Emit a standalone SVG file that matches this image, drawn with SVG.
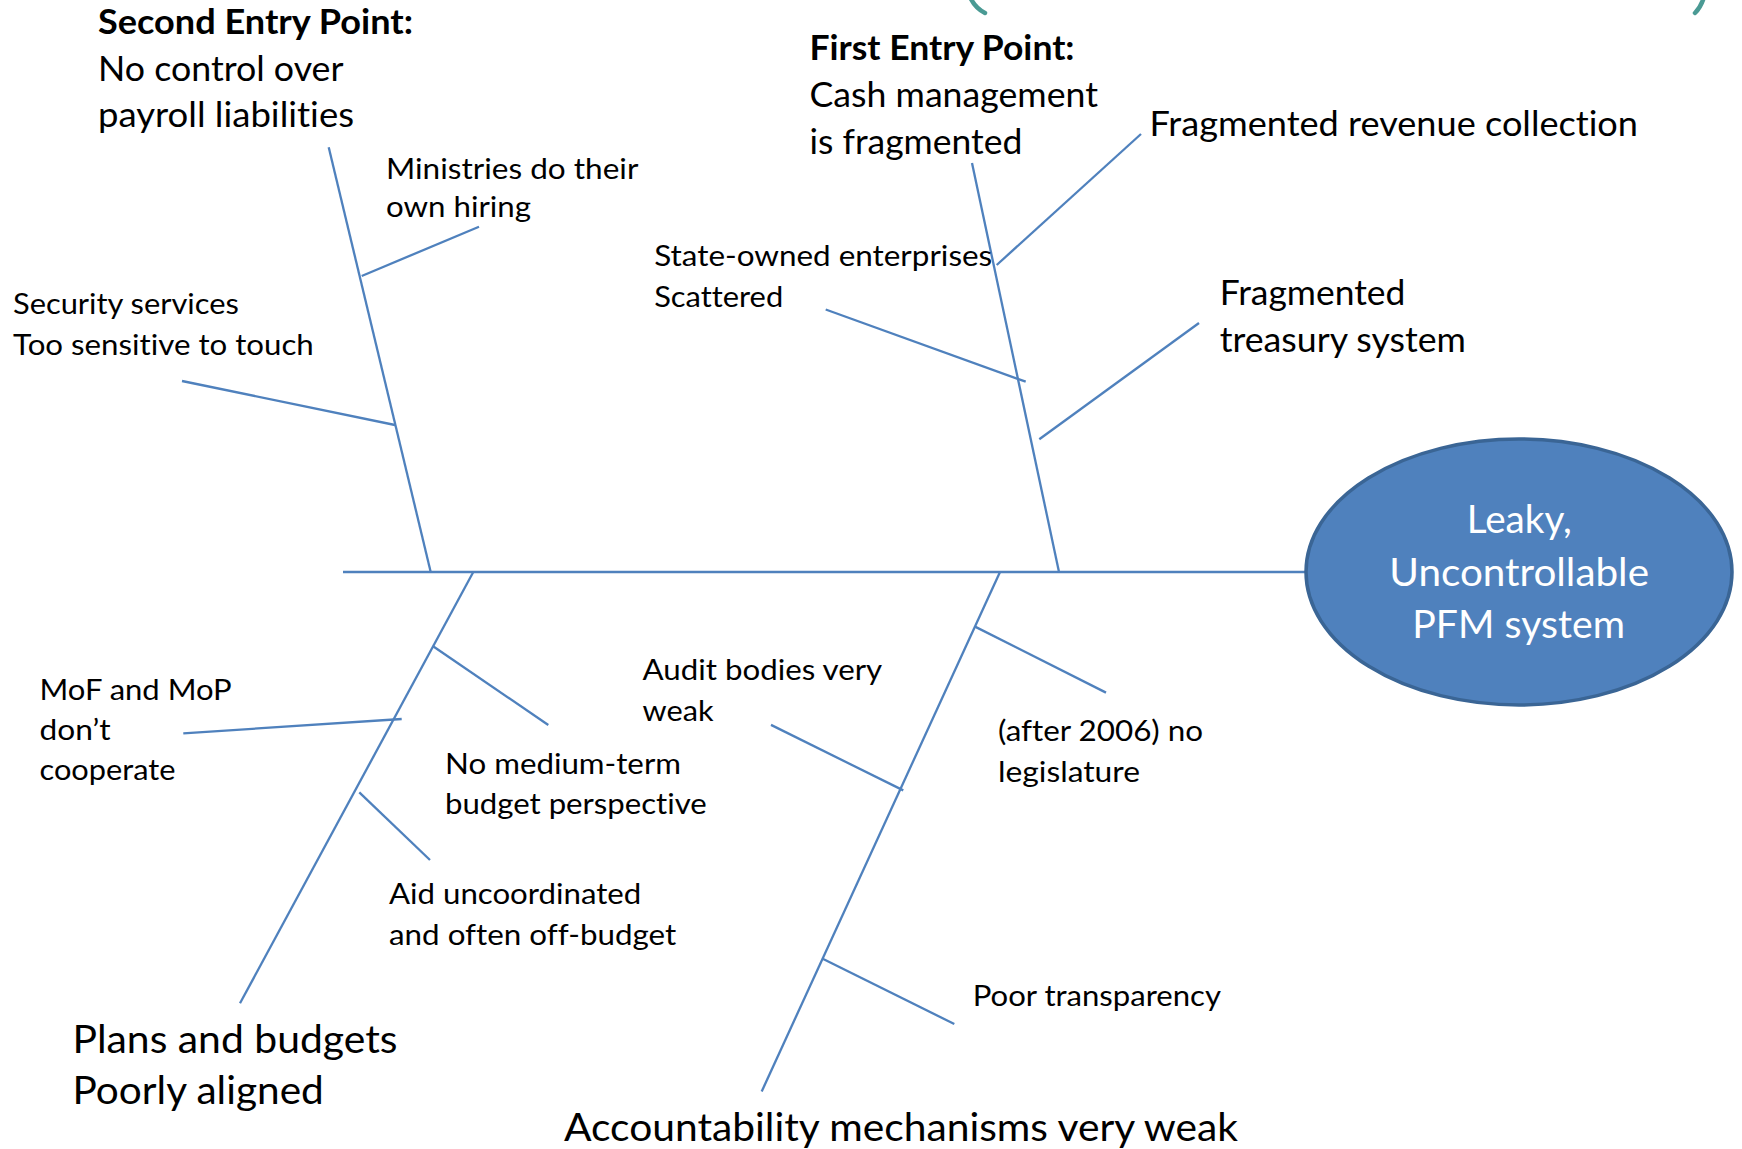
<svg xmlns="http://www.w3.org/2000/svg" width="1742" height="1149" viewBox="0 0 1742 1149">
  <style>
    .bone { stroke: #4F81BD; stroke-width: 2.3; fill: none; stroke-linecap: butt; }
    .t { font-family: Lato, "Open Sans", "Liberation Sans", sans-serif; fill: #000; font-variant-ligatures: none; }
    .s { font-size: 28px; }
    .m { font-size: 34px; }
    .l { font-size: 38px; }
    .b { font-weight: bold; }
    .w { fill: #FFFFFF; }
    .frame { stroke: #4A9A94; stroke-width: 4.5; fill: none; stroke-linecap: round; }
  </style>
  <rect width="1742" height="1149" fill="#FFFFFF"/>

  <!-- edges of a frame above the top border -->
  <path class="frame" d="M970,-3 Q975,8 985,13"/>
  <path class="frame" d="M1704,-3 Q1701,7 1695,13"/>

  <!-- fishbone lines -->
  <g id="connectors">
    <line class="bone" x1="343" y1="572" x2="1306" y2="572"/>
    <!-- upper-left bone and its ribs -->
    <line class="bone" x1="328.7" y1="147.3" x2="430.7" y2="572"/>
    <line class="bone" x1="361.7" y1="276" x2="479" y2="226.7"/>
    <line class="bone" x1="182" y1="381" x2="395" y2="425"/>
    <!-- upper-right bone and its ribs -->
    <line class="bone" x1="972" y1="163" x2="1059" y2="572"/>
    <line class="bone" x1="996.7" y1="265" x2="1141" y2="134"/>
    <line class="bone" x1="825.7" y1="309.5" x2="1025.7" y2="381.7"/>
    <line class="bone" x1="1039.3" y1="439.3" x2="1199" y2="323"/>
    <!-- lower-left bone and its ribs -->
    <line class="bone" x1="473.3" y1="572" x2="240" y2="1003.3"/>
    <line class="bone" x1="432.7" y1="646" x2="548.3" y2="725"/>
    <line class="bone" x1="183.3" y1="733.3" x2="401.7" y2="719"/>
    <line class="bone" x1="359.3" y1="792.3" x2="430" y2="860"/>
    <!-- lower-right bone and its ribs -->
    <line class="bone" x1="1000" y1="572" x2="761.7" y2="1091.4"/>
    <line class="bone" x1="975" y1="626.6" x2="1106" y2="692.6"/>
    <line class="bone" x1="771" y1="724.9" x2="903.3" y2="790.4"/>
    <line class="bone" x1="822.7" y1="958.8" x2="954.3" y2="1024"/>
  </g>

  <!-- effect -->
  <g id="effect">
    <ellipse cx="1519" cy="572" rx="213" ry="133" fill="#4F81BD" stroke="#3A6595" stroke-width="3.5"/>
    <text class="t l w" x="1466.7" y="533" textLength="105" lengthAdjust="spacingAndGlyphs">Leaky,</text>
    <text class="t l w" x="1389.3" y="585.7" textLength="259.7" lengthAdjust="spacingAndGlyphs">Uncontrollable</text>
    <text class="t l w" x="1412.3" y="638.3" textLength="212.7" lengthAdjust="spacingAndGlyphs">PFM system</text>
  </g>

  <!-- upper-left cause: payroll -->
  <g id="payroll">
    <text class="t m b" x="98" y="33.5" textLength="315" lengthAdjust="spacingAndGlyphs">Second Entry Point:</text>
    <text class="t m" x="98" y="80.5" textLength="245.5" lengthAdjust="spacingAndGlyphs">No control over</text>
    <text class="t m" x="98" y="127" textLength="256" lengthAdjust="spacingAndGlyphs">payroll liabilities</text>
  </g>
  <g id="hiring">
    <text class="t s" x="386" y="178.5" textLength="252.4" lengthAdjust="spacingAndGlyphs">Ministries do their</text>
    <text class="t s" x="386" y="217" textLength="145" lengthAdjust="spacingAndGlyphs">own hiring</text>
  </g>
  <g id="security">
    <text class="t s" x="13" y="313.5" textLength="225.8" lengthAdjust="spacingAndGlyphs">Security services</text>
    <text class="t s" x="13" y="355" textLength="300.8" lengthAdjust="spacingAndGlyphs">Too sensitive to touch</text>
  </g>

  <!-- upper-right cause: cash management -->
  <g id="cash">
    <text class="t m b" x="809.5" y="60" textLength="265" lengthAdjust="spacingAndGlyphs">First Entry Point:</text>
    <text class="t m" x="809.5" y="106.7" textLength="288.5" lengthAdjust="spacingAndGlyphs">Cash management</text>
    <text class="t m" x="809.5" y="154" textLength="212.8" lengthAdjust="spacingAndGlyphs">is fragmented</text>
  </g>
  <g id="revenue">
    <text class="t m" x="1149.5" y="136" textLength="488.5" lengthAdjust="spacingAndGlyphs">Fragmented revenue collection</text>
  </g>
  <g id="soe">
    <text class="t s" x="654.2" y="266" textLength="338" lengthAdjust="spacingAndGlyphs">State-owned enterprises</text>
    <text class="t s" x="654.2" y="306.7" textLength="129" lengthAdjust="spacingAndGlyphs">Scattered</text>
  </g>
  <g id="treasury">
    <text class="t m" x="1219.7" y="305" textLength="185.6" lengthAdjust="spacingAndGlyphs">Fragmented</text>
    <text class="t m" x="1219.7" y="351.7" textLength="246.3" lengthAdjust="spacingAndGlyphs">treasury system</text>
  </g>

  <!-- lower-left cause: plans and budgets -->
  <g id="plans">
    <text class="t l" x="72.5" y="1052.5" textLength="325" lengthAdjust="spacingAndGlyphs">Plans and budgets</text>
    <text class="t l" x="72.5" y="1104.4" textLength="251.3" lengthAdjust="spacingAndGlyphs">Poorly aligned</text>
  </g>
  <g id="mof">
    <text class="t s" x="39.5" y="700" textLength="192.2" lengthAdjust="spacingAndGlyphs">MoF and MoP</text>
    <text class="t s" x="39.5" y="739.7" textLength="71" lengthAdjust="spacingAndGlyphs">don’t</text>
    <text class="t s" x="39.5" y="780" textLength="136" lengthAdjust="spacingAndGlyphs">cooperate</text>
  </g>
  <g id="mtef">
    <text class="t s" x="445" y="774.3" textLength="236" lengthAdjust="spacingAndGlyphs">No medium-term</text>
    <text class="t s" x="445" y="813.8" textLength="261.7" lengthAdjust="spacingAndGlyphs">budget perspective</text>
  </g>
  <g id="aid">
    <text class="t s" x="389" y="904" textLength="252.3" lengthAdjust="spacingAndGlyphs">Aid uncoordinated</text>
    <text class="t s" x="389" y="945.3" textLength="287.2" lengthAdjust="spacingAndGlyphs">and often off-budget</text>
  </g>

  <!-- lower-right cause: accountability -->
  <g id="accountability">
    <text class="t l" x="564" y="1141" textLength="674" lengthAdjust="spacingAndGlyphs">Accountability mechanisms very weak</text>
  </g>
  <g id="audit">
    <text class="t s" x="642.6" y="680.3" textLength="239.6" lengthAdjust="spacingAndGlyphs">Audit bodies very</text>
    <text class="t s" x="642.6" y="721" textLength="71" lengthAdjust="spacingAndGlyphs">weak</text>
  </g>
  <g id="legislature">
    <text class="t s" x="998" y="741.2" textLength="205" lengthAdjust="spacingAndGlyphs">(after 2006) no</text>
    <text class="t s" x="998" y="781.8" textLength="142" lengthAdjust="spacingAndGlyphs">legislature</text>
  </g>
  <g id="transparency">
    <text class="t s" x="972.7" y="1005.5" textLength="248.3" lengthAdjust="spacingAndGlyphs">Poor transparency</text>
  </g>
</svg>
